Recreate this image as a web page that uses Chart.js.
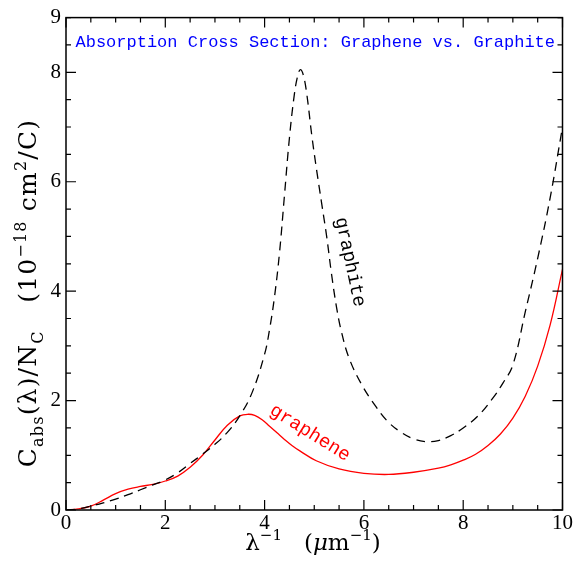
<!DOCTYPE html>
<html><head><meta charset="utf-8">
<script src="https://cdn.jsdelivr.net/npm/chart.js@4.4.0/dist/chart.umd.min.js"></script>
<style>html,body{margin:0;padding:0;background:#fff;}#wrap{width:574px;height:561px;}</style>
</head><body><div id="wrap"><canvas id="c" width="574" height="561"></canvas></div>
<script>
// ---- data ----
const graphiteX = [0,0.25,0.5,0.75,1.0,1.25,1.5,1.75,2.0,2.25,2.5,2.75,3.0,3.25,3.5,3.75,4.0,4.1,4.2,4.3,4.4,4.5,4.6,4.67,4.72,4.78,4.85,4.95,5.05,5.15,5.25,5.35,5.45,5.55,5.7,5.95,6.25,6.5,6.75,7.0,7.25,7.5,7.75,8.0,8.3,8.6,8.8,9.0,9.25,9.5,9.75,10];
const graphiteY = [0,0.02,0.07,0.13,0.20,0.28,0.37,0.46,0.55,0.68,0.85,1.02,1.20,1.42,1.72,2.15,2.85,3.3,3.9,4.7,5.75,6.8,7.6,7.95,8.05,7.95,7.6,6.85,6.2,5.6,5.0,4.3,3.7,3.25,2.78,2.3,1.88,1.6,1.42,1.3,1.25,1.27,1.36,1.5,1.72,2.05,2.32,2.65,3.62,4.6,5.7,7.0];
const grapheneX = [0,0.25,0.5,0.75,1.0,1.25,1.5,1.75,2.0,2.25,2.5,2.75,3.0,3.25,3.5,3.67,3.8,3.95,4.1,4.25,4.4,4.55,4.71,5.04,5.5,6.0,6.5,7.0,7.5,7.75,8.0,8.25,8.5,8.75,9.0,9.25,9.5,9.75,10];
const grapheneY = [0,0.02,0.07,0.18,0.30,0.38,0.43,0.47,0.53,0.62,0.78,1.0,1.28,1.55,1.72,1.75,1.73,1.65,1.53,1.41,1.29,1.18,1.08,0.90,0.75,0.67,0.65,0.69,0.765,0.825,0.91,1.02,1.18,1.39,1.68,2.08,2.63,3.38,4.4];
const xTickLabels = [0,2,4,6,8,10];
const yTickLabels = [0,2,4,6,8,9];
const chartTitle = 'Absorption Cross Section: Graphene vs. Graphite';
const graphiteLabel = 'graphite';
const grapheneLabel = 'graphene';

const toPts = (xs, ys) => xs.map((x, i) => ({x: x, y: ys[i]}));

function drawRuns(ctx, runs, cx, cy, fam, big, small, spacing) {
  let total = 0;
  ctx.letterSpacing = spacing || '0px';
  runs.forEach(r => {
    const sz = r.k === 'n' ? big : small;
    ctx.font = (r.it ? 'italic ' : '') + sz + 'px ' + fam;
    r.w = ctx.measureText(r.t).width; r.sz = sz; total += r.w;
  });
  let x = cx - total / 2;
  ctx.textAlign = 'left'; ctx.textBaseline = 'alphabetic';
  runs.forEach(r => {
    ctx.font = (r.it ? 'italic ' : '') + r.sz + 'px ' + fam;
    const dy = r.k === 'sub' ? big * 0.28 : (r.k === 'sup' ? -big * 0.42 : 0);
    ctx.fillText(r.t, x, cy + dy);
    x += r.w;
  });
  ctx.letterSpacing = '0px';
}

const decor = {
  id: 'decor',
  afterDraw(chart) {
    const ctx = chart.ctx, a = chart.chartArea;
    const xs = chart.scales.x, ys = chart.scales.y;
    ctx.save();
    ctx.strokeStyle = '#000'; ctx.lineWidth = 1.5;
    ctx.strokeRect(a.left, a.top, a.right - a.left, a.bottom - a.top);
    ctx.lineWidth = 1.2;
    for (let v = 0; v <= 10.001; v += 0.5) {
      const px = xs.getPixelForValue(v);
      const len = Math.abs(v - Math.round(v / 2) * 2) < 1e-6 ? 10 : 5;
      ctx.beginPath();
      ctx.moveTo(px, a.bottom); ctx.lineTo(px, a.bottom - len);
      ctx.moveTo(px, a.top); ctx.lineTo(px, a.top + len);
      ctx.stroke();
    }
    for (let v = 0; v <= 9.001; v += 0.5) {
      const py = ys.getPixelForValue(v);
      const len = Math.abs(v - Math.round(v / 2) * 2) < 1e-6 ? 10 : 5;
      ctx.beginPath();
      ctx.moveTo(a.left, py); ctx.lineTo(a.left + len, py);
      ctx.moveTo(a.right, py); ctx.lineTo(a.right - len, py);
      ctx.stroke();
    }
    // title inside plot
    ctx.fillStyle = '#0000ff';
    ctx.font = '17px "Liberation Mono"';
    ctx.textAlign = 'center'; ctx.textBaseline = 'middle';
    ctx.fillText(chartTitle, (a.left + a.right) / 2 + 1, a.top + 25);
    // curve labels
    ctx.save();
    ctx.translate(350, 262); ctx.rotate(78 * Math.PI / 180);
    ctx.fillStyle = '#000'; ctx.font = '19px "Liberation Mono"';
    ctx.fillText(graphiteLabel, 0, 0);
    ctx.restore();
    ctx.save();
    ctx.translate(310, 433); ctx.rotate(32 * Math.PI / 180);
    ctx.fillStyle = '#ff0000'; ctx.font = '19px "Liberation Mono"';
    ctx.fillText(grapheneLabel, 0, 0);
    ctx.restore();
    // axis titles
    ctx.fillStyle = '#000';
    drawRuns(ctx, [
      {t: 'λ', k: 'n'}, {t: '−1', k: 'sup'}, {t: '   (', k: 'n'}, {t: 'μ', k: 'n', it: true},
      {t: 'm', k: 'n'}, {t: '−1', k: 'sup'}, {t: ')', k: 'n'}
    ], 313, 550, '"DejaVu Serif"', 23, 15);
    ctx.save();
    ctx.translate(36, 293); ctx.rotate(-Math.PI / 2);
    drawRuns(ctx, [
      {t: 'C', k: 'n'}, {t: 'abs', k: 'sub'}, {t: '(λ)/N', k: 'n'}, {t: 'C', k: 'sub'},
      {t: '   (10', k: 'n'}, {t: '−18', k: 'sup'}, {t: ' cm', k: 'n'}, {t: '2', k: 'sup'}, {t: '/C)', k: 'n'}
    ], 0, 0, '"DejaVu Serif"', 25, 16, '1.2px');
    ctx.restore();
    ctx.restore();
  }
};

new Chart(document.getElementById('c'), {
  type: 'scatter',
  data: {
    datasets: [
      {label: graphiteLabel, data: toPts(graphiteX, graphiteY), showLine: true, borderColor: '#000', borderWidth: 1.3,
       borderDash: [9, 6], pointRadius: 0, tension: 0.4, fill: false},
      {label: grapheneLabel, data: toPts(grapheneX, grapheneY), showLine: true, borderColor: '#ff0000', borderWidth: 1.3,
       pointRadius: 0, tension: 0.4, fill: false}
    ]
  },
  options: {
    responsive: false, animation: false, devicePixelRatio: 1,
    layout: {padding: {top: 12, right: 11, left: 0, bottom: 0}},
    plugins: {legend: {display: false}, tooltip: {enabled: false}, title: {display: false}},
    scales: {
      x: {type: 'linear', min: 0, max: 10,
        grid: {display: false, drawTicks: false}, border: {display: false},
        ticks: {stepSize: 2, autoSkip: false, maxRotation: 0, padding: 1, color: '#000',
          font: {family: '"Liberation Serif"', size: 21},
          callback: v => xTickLabels.includes(v) ? String(v) : ''},
        afterFit: s => { s.height = 51; }},
      y: {type: 'linear', min: 0, max: 9,
        grid: {display: false, drawTicks: false}, border: {display: false},
        ticks: {stepSize: 1, autoSkip: false, padding: 5, color: '#000',
          font: {family: '"Liberation Serif"', size: 21},
          callback: v => yTickLabels.includes(v) ? String(v) : ''},
        afterFit: s => { s.width = 66; }}
    }
  },
  plugins: [decor]
});
</script></body></html>
